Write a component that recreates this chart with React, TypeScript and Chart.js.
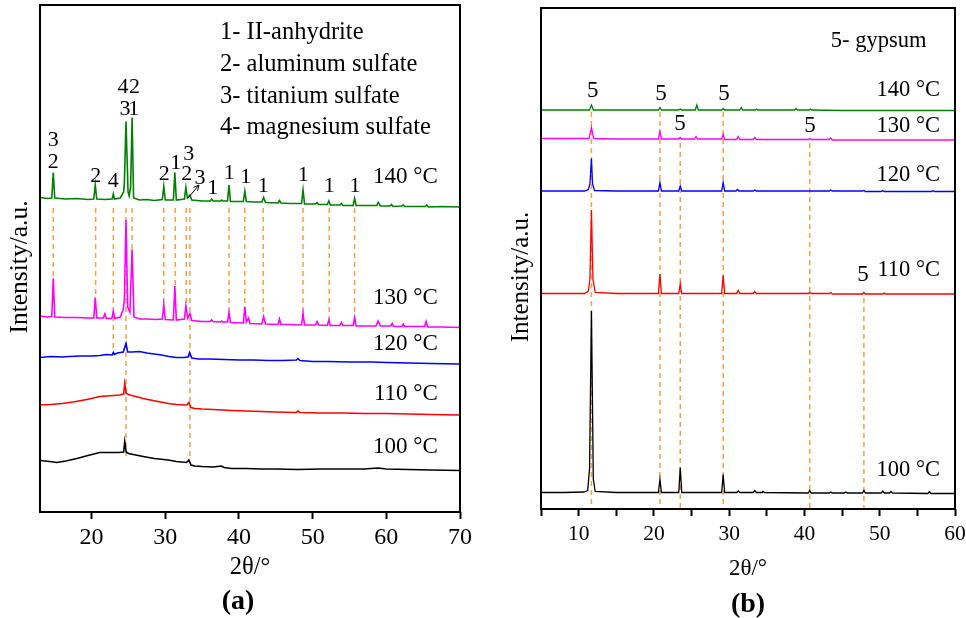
import React, { useEffect, useRef } from "react";
import { Chart, registerables } from "chart.js";

Chart.register(...registerables);
document.body.style.margin = "0";

const FONT = '"Liberation Serif", "Times New Roman", serif';
const DASH_COLOR = "rgb(246,160,72)";

// ---------------- Panel (a) data: 2θ (deg), intensity (a.u., stacked) ----------------
const A_X_TICKS = [20, 30, 40, 50, 60, 70];
const A_LABELLED = [20, 30, 40, 50, 60, 70];

const A_140: number[][] = [
  [13, 629], [14.0, 627], [14.6, 628], [14.8, 679], [15.0, 628], [16.5, 626], [18.0, 627], [19.5, 625],
  [20.3, 626], [20.5, 654], [20.7, 626], [21.8, 625], [22.8, 626], [22.95, 636], [23.1, 626], [23.9, 628],
  [24.35, 640], [24.45, 658], [24.67, 781], [24.95, 640], [25.1, 632], [25.3, 650], [25.5, 789], [25.7, 628],
  [26.5, 624], [27.5, 625], [28.5, 623], [29.6, 625], [29.8, 651], [30.0, 624], [31.1, 624], [31.3, 679],
  [31.5, 624], [32.6, 626], [32.8, 649], [33.0, 628], [33.35, 634], [33.6, 624], [35.0, 622], [36.1, 622],
  [36.3, 626], [36.5, 622], [37.5, 622], [37.65, 624], [37.8, 622], [38.45, 622], [38.65, 654], [38.85, 621],
  [40.6, 621], [40.8, 642], [41.0, 621], [42.0, 620], [43.1, 620], [43.35, 629], [43.6, 619], [45.3, 618],
  [45.5, 623], [45.7, 618], [47.0, 617], [48.5, 617], [48.7, 644], [48.9, 616], [50.4, 616], [50.6, 619],
  [50.8, 615], [52.0, 615], [52.2, 622], [52.4, 614], [53.7, 614], [53.9, 617], [54.1, 613], [55.5, 613],
  [55.7, 627], [55.9, 613], [57.5, 613], [58.7, 613], [58.9, 619], [59.2, 612], [60.5, 612], [60.7, 615],
  [60.9, 611], [62.1, 612], [62.3, 614], [62.5, 611], [64.0, 611], [65.3, 611], [65.5, 614], [65.7, 610],
  [67.5, 611], [70, 610],
];

const A_130: number[][] = [
  [13, 392], [14.0, 390], [14.6, 391], [14.8, 467], [15.0, 390], [16.5, 389], [18.0, 389], [19.5, 388],
  [20.3, 388], [20.5, 429], [20.7, 388], [21.6, 388], [21.8, 396], [22.0, 387], [22.75, 387], [22.95, 401],
  [23.15, 387], [23.9, 390], [24.3, 405], [24.45, 424], [24.67, 584], [24.9, 410], [25.2, 400], [25.5, 525],
  [25.75, 390], [26.5, 386], [27.5, 386], [28.7, 385], [29.6, 386], [29.8, 414], [30.0, 385], [31.1, 384],
  [31.3, 452], [31.5, 384], [32.6, 386], [32.8, 412], [33.05, 388], [33.35, 397], [33.6, 383], [35.0, 381],
  [36.1, 381], [36.3, 384], [36.5, 381], [37.5, 380], [37.65, 382], [37.8, 380], [38.45, 380], [38.65, 399],
  [38.85, 379], [40.6, 378], [40.8, 411], [41.0, 380], [41.3, 388], [41.5, 377], [43.1, 376], [43.35, 391],
  [43.6, 376], [45.3, 375], [45.5, 386], [45.7, 375], [47.0, 375], [48.5, 374], [48.7, 397], [48.9, 374],
  [50.4, 374], [50.6, 381], [50.8, 374], [52.0, 373], [52.2, 384], [52.4, 373], [53.7, 373], [53.9, 379],
  [54.1, 373], [55.5, 373], [55.7, 389], [55.9, 372], [57.5, 372], [58.6, 372], [58.9, 382], [59.2, 372],
  [60.6, 372], [60.8, 377], [61.0, 371], [62.1, 371], [62.3, 376], [62.5, 371], [64.0, 371], [65.2, 371],
  [65.4, 381], [65.6, 370], [67.5, 370], [70, 369],
];

const A_120: number[][] = [
  [13, 309], [14.5, 311], [16, 310], [17, 311], [18.5, 312], [20, 312], [21.1, 313], [22, 315], [22.8, 314],
  [22.95, 319], [23.1, 315], [23.5, 318], [24.3, 320], [24.67, 337], [24.9, 320], [25.5, 320], [26.5, 321],
  [27.5, 318], [28.5, 316], [29.5, 314], [30.5, 311], [31.5, 309], [32.5, 309], [33.1, 310], [33.3, 319],
  [33.6, 308], [34.5, 306], [36, 306], [38, 305], [40, 304], [42, 304], [44, 303], [46, 303], [47.8, 304],
  [48.0, 307], [48.3, 303], [50, 301], [52, 301], [55, 300], [58, 300], [60, 299], [63, 298], [66, 297],
  [70, 296],
];

const A_110: number[][] = [
  [13, 214], [14.5, 215], [16, 217], [17.5, 220], [19, 224], [20, 227], [21.1, 231], [22, 232], [23, 233],
  [23.8, 234], [24.35, 236], [24.5, 257], [24.7, 237], [25.2, 234], [26, 231], [27, 227], [28, 224],
  [29, 221], [30.4, 217], [31.5, 215], [32.9, 214], [33.2, 219], [33.5, 209], [34, 207], [35, 206],
  [36.5, 205], [39, 203], [41, 202], [43, 201], [45, 200], [47.8, 199], [48.0, 202], [48.3, 199], [51, 198],
  [54, 198], [57, 197], [60, 197], [63, 196], [66, 195], [70, 194],
];

const A_100: number[][] = [
  [13, 103], [14.3, 101], [15.3, 99], [16.5, 102], [18, 107], [19.5, 113], [21.1, 119], [22.5, 119],
  [23.7, 119], [24.35, 120], [24.5, 141], [24.7, 120], [25, 117], [26, 114], [27, 111], [28.5, 107],
  [30.4, 104], [31.5, 101], [32.9, 99], [33.2, 104], [33.5, 94], [34, 92], [35, 91], [36.5, 90], [37.6, 92],
  [38, 89], [39, 87], [41, 87], [43, 86], [45, 86], [48, 85], [51, 86], [54, 86], [57, 86], [58.9, 88],
  [60, 86], [63, 85], [66, 84], [70, 83],
];

// reference (dashed) lines: [2θ, top, bottom]
const A_DASH: number[][] = [
  [14.8, 608, 470], [20.55, 608, 429], [22.95, 608, 318], [24.67, 608, 110], [25.5, 608, 525],
  [29.8, 608, 414], [31.35, 608, 452], [32.85, 608, 412], [33.35, 608, 110], [38.65, 608, 399],
  [40.8, 608, 411], [43.3, 608, 391], [48.7, 608, 397], [52.25, 608, 384], [55.7, 608, 389],
];

const A_TEMPS = ["140 °C", "130 °C", "120 °C", "110 °C", "100 °C"];
const A_LEGEND = ["1- II-anhydrite", "2- aluminum sulfate", "3- titanium sulfate", "4- magnesium sulfate"];
const A_PEAK_TEXT = ["3", "2", "2", "4", "4", "2", "3", "1", "2", "1", "3", "2", "3", "1", "1", "1", "1", "1", "1", "1"];

// ---------------- Panel (b) data ----------------
const B_X_TICKS = [5, 10, 15, 20, 25, 30, 35, 40, 45, 50, 55, 60];
const B_LABELLED = [10, 20, 30, 40, 50, 60];

const B_140: number[][] = [
  [5, 798], [8, 798], [10, 798], [11.45, 798], [11.7, 808], [11.95, 798], [15, 798], [18, 798], [20.6, 798],
  [20.8, 803], [21.0, 798], [23.3, 798], [23.5, 800], [23.7, 798], [25.5, 798], [25.7, 808], [25.9, 798],
  [29.0, 798], [29.2, 801], [29.4, 798], [31.4, 798], [31.6, 803], [31.8, 798], [33.5, 798], [33.65, 800],
  [33.8, 798], [38.7, 798], [38.9, 801], [39.1, 798], [40.6, 798], [40.8, 800], [41.0, 798], [45, 797],
  [50, 797], [55, 797], [60, 797],
];

const B_130: number[][] = [
  [5, 741], [8, 741], [11.4, 741], [11.7, 763], [12.0, 741], [15, 740], [20.6, 740], [20.8, 755], [21.0, 740],
  [23.3, 740], [23.5, 743], [23.7, 740], [25.4, 740], [25.6, 745], [25.8, 740], [29.0, 740], [29.2, 749],
  [29.4, 739], [31.0, 739], [31.2, 745], [31.4, 739], [33.2, 739], [33.4, 743], [33.6, 739], [35, 739],
  [40.5, 739], [40.7, 741], [40.9, 739], [43.3, 739], [43.5, 742], [43.7, 738], [50, 738], [55, 738],
  [60, 738],
];

const B_120: number[][] = [
  [5, 636], [8, 636], [10.8, 636], [11.3, 639], [11.5, 650], [11.7, 701], [11.85, 650], [12.1, 637], [15, 636],
  [18, 636], [20.6, 636], [20.8, 653], [21.0, 636], [23.3, 636], [23.5, 646], [23.7, 636], [26, 636],
  [29.0, 636], [29.2, 653], [29.4, 636], [30.9, 636], [31.1, 639], [31.3, 636], [33.2, 636], [33.4, 638],
  [33.6, 636], [40, 636], [43.3, 636], [43.5, 638], [43.7, 636], [47.7, 636], [47.9, 637], [48.1, 635],
  [50.2, 635], [50.4, 637], [50.6, 635], [56.9, 635], [57.1, 637], [57.3, 635], [60, 635],
];

const B_110: number[][] = [
  [5, 431], [8, 431], [10.8, 431], [11.3, 436], [11.5, 460], [11.7, 598], [11.9, 460], [12.2, 433], [15, 431],
  [18, 431], [20.6, 431], [20.8, 470], [21.0, 431], [23.3, 431], [23.5, 450], [23.7, 431], [26, 431],
  [29.0, 431], [29.2, 467], [29.4, 431], [31.0, 431], [31.2, 437], [31.4, 431], [33.2, 431], [33.4, 435],
  [33.6, 431], [38, 431], [40.5, 431], [40.7, 433], [40.9, 431], [43.3, 431], [43.5, 433], [43.7, 430],
  [47.7, 430], [47.9, 433], [48.1, 430], [50.4, 430], [50.6, 432], [50.8, 430], [55, 430], [60, 430],
];

const B_100: number[][] = [
  [5, 33], [8, 33], [10.7, 34], [11.2, 37], [11.45, 80], [11.7, 396], [11.95, 60], [12.2, 35], [15, 33],
  [18, 33], [20.6, 33], [20.8, 59], [21.0, 33], [23.3, 33], [23.5, 83], [23.7, 33], [26, 33], [29.0, 33],
  [29.2, 69], [29.4, 33], [31.0, 33], [31.2, 36], [31.4, 33], [33.2, 33], [33.4, 37], [33.6, 33], [34.4, 33],
  [34.5, 35], [34.7, 33], [40.5, 32], [40.7, 37], [40.9, 32], [43.3, 32], [43.5, 34], [43.7, 32], [45.3, 32],
  [45.5, 34], [45.7, 32], [47.7, 32], [47.9, 37], [48.1, 32], [50.2, 32], [50.4, 36], [50.6, 32], [51.3, 32],
  [51.5, 35], [51.7, 32], [56.4, 31], [56.6, 35], [56.8, 31], [60, 31],
];

const B_DASH: number[][] = [
  [11.7, 794, 2], [20.8, 794, 2], [23.5, 732, 2], [29.2, 794, 2], [40.7, 732, 2], [47.9, 422, 2],
];

const B_TEMPS = ["140 °C", "130 °C", "120 °C", "110 °C", "100 °C"];
const B_LEGEND = ["5- gypsum"];
const B_PEAK_TEXT = ["5", "5", "5", "5", "5", "5"];

const SERIES_COLORS = ["#008000", "#ff00ff", "#0000ff", "#ff0000", "#000000"];

// ---------------- layout of annotations (positions in data coords) ----------------
const A_LAYOUT = {
  legendX: 37.43, legendY: [958, 894, 830, 768], legendSize: 24.5,
  tempX: 67.0, tempY: [670, 428, 336, 236, 130], tempSize: 23,
  peakPos: [
    [14.8, 744], [14.8, 699], [20.56, 672], [22.95, 661], [24.27, 850], [25.83, 850], [24.54, 806],
    [25.72, 806], [29.87, 676], [31.42, 697], [33.18, 716], [32.91, 676], [34.72, 667], [36.44, 647],
    [38.69, 677], [40.92, 669], [43.31, 651], [48.74, 674], [52.26, 652], [55.75, 652],
  ],
  peakSize: 22,
  arrow: [33.09, 628, 34.58, 654],
  yTitle: { x: 20.7, y: 267, size: 25.5 },
  tag: { text: "(a)", x: 238, y: 602, size: 28 },
};

const B_LAYOUT = {
  legendX: 43.5, legendY: [935], legendSize: 22.5,
  tempX: 58.0, tempY: [838, 765, 668, 478, 78], tempSize: 22.5,
  peakPos: [[11.86, 837], [20.94, 830], [29.31, 830], [23.47, 770], [40.74, 767], [47.78, 468]],
  peakSize: 23,
  arrow: null as number[] | null,
  yTitle: { x: 38.7, y: 277, size: 25 },
  tag: { text: "(b)", x: 265, y: 605, size: 28 },
};

type Spec = {
  series: number[][][];
  dash: number[][];
  xMin: number; xMax: number; yMax: number;
  ticks: number[]; labelled: number[];
  pad: { left: number; right: number; top: number };
  xAxisH: number; tickFont: number; tickPad: number;
  titleFont: number; titlePadB: number;
  temps: string[]; legend: string[]; peakText: string[];
  layout: typeof A_LAYOUT;
  lineW: number;
};

const SPEC_A: Spec = {
  series: [A_140, A_130, A_120, A_110, A_100],
  dash: A_DASH, xMin: 13, xMax: 70, yMax: 1014,
  ticks: A_X_TICKS, labelled: A_LABELLED,
  pad: { left: 40, right: 23, top: 5 }, xAxisH: 106, tickFont: 24, tickPad: 4,
  titleFont: 24.5, titlePadB: 35.3,
  temps: A_TEMPS, legend: A_LEGEND, peakText: A_PEAK_TEXT, layout: A_LAYOUT, lineW: 1.6,
};

const SPEC_B: Spec = {
  series: [B_140, B_130, B_120, B_110, B_100],
  dash: B_DASH, xMin: 5, xMax: 60, yMax: 1002,
  ticks: B_X_TICKS, labelled: B_LABELLED,
  pad: { left: 58, right: 11, top: 8 }, xAxisH: 109, tickFont: 21.5, tickPad: 5,
  titleFont: 23, titlePadB: 35.5,
  temps: B_TEMPS, legend: B_LEGEND, peakText: B_PEAK_TEXT, layout: B_LAYOUT as any, lineW: 1.3,
};

function makeConfig(spec: Spec): any {
  const L = spec.layout;
  const annotPlugin = {
    id: "annot",
    afterDraw(chart: any) {
      const { ctx, chartArea, scales } = chart;
      const xs = scales.x, ys = scales.y;
      const px = (v: number) => xs.getPixelForValue(v);
      const py = (v: number) => ys.getPixelForValue(v);
      ctx.save();
      // frame
      ctx.strokeStyle = "#000";
      ctx.lineWidth = 2;
      ctx.strokeRect(chartArea.left, chartArea.top, chartArea.right - chartArea.left, chartArea.bottom - chartArea.top);
      ctx.fillStyle = "#000";
      ctx.textBaseline = "middle";
      // legend text
      ctx.font = `${L.legendSize}px ${FONT}`;
      ctx.textAlign = "left";
      spec.legend.forEach((t, i) => ctx.fillText(t, px(L.legendX), py(L.legendY[i])));
      // temperatures
      ctx.font = `${L.tempSize}px ${FONT}`;
      ctx.textAlign = "right";
      spec.temps.forEach((t, i) => ctx.fillText(t, px(L.tempX), py(L.tempY[i])));
      // peak numbers
      ctx.font = `${L.peakSize}px ${FONT}`;
      ctx.textAlign = "center";
      spec.peakText.forEach((t, i) => ctx.fillText(t, px(L.peakPos[i][0]), py(L.peakPos[i][1])));
      // arrow
      if (L.arrow) {
        const [x1, y1, x2, y2] = L.arrow;
        const ax = px(x1), ay = py(y1), bx = px(x2), by = py(y2);
        ctx.lineWidth = 1;
        ctx.beginPath();
        ctx.moveTo(ax, ay);
        ctx.lineTo(bx, by);
        const ang = Math.atan2(by - ay, bx - ax);
        const h = 6;
        ctx.moveTo(bx, by);
        ctx.lineTo(bx - h * Math.cos(ang - 0.45), by - h * Math.sin(ang - 0.45));
        ctx.moveTo(bx, by);
        ctx.lineTo(bx - h * Math.cos(ang + 0.45), by - h * Math.sin(ang + 0.45));
        ctx.stroke();
      }
      // y title
      ctx.save();
      ctx.translate(L.yTitle.x, L.yTitle.y);
      ctx.rotate(-Math.PI / 2);
      ctx.font = `${L.yTitle.size}px ${FONT}`;
      ctx.textAlign = "center";
      ctx.fillText("Intensity/a.u.", 0, 0);
      ctx.restore();
      // panel tag
      ctx.font = `bold ${L.tag.size}px ${FONT}`;
      ctx.textAlign = "center";
      ctx.fillText(L.tag.text, L.tag.x, L.tag.y);
      ctx.restore();
    },
  };

  const curveSets = spec.series.map((s, i) => ({
    data: s.map(([x, y]) => ({ x, y })),
    borderColor: SERIES_COLORS[i],
    borderWidth: spec.lineW,
    showLine: true,
    pointRadius: 0,
    fill: false,
    order: 1,
  }));
  const dashSets = spec.dash.map(([x, t, b]) => ({
    data: [{ x, y: t }, { x, y: b }],
    borderColor: DASH_COLOR,
    borderWidth: 1.5,
    borderDash: [5, 4],
    showLine: true,
    pointRadius: 0,
    fill: false,
    order: 2,
  }));

  return {
    type: "scatter",
    data: { datasets: [...curveSets, ...dashSets] },
    options: {
      responsive: false,
      animation: false,
      events: [],
      layout: { padding: { left: spec.pad.left, right: spec.pad.right, top: spec.pad.top, bottom: 0 } },
      plugins: { legend: { display: false }, tooltip: { enabled: false }, title: { display: false } },
      scales: {
        x: {
          type: "linear",
          min: spec.xMin,
          max: spec.xMax,
          afterBuildTicks: (s: any) => { s.ticks = spec.ticks.map((v) => ({ value: v })); },
          afterFit: (s: any) => { s.height = spec.xAxisH; s.paddingLeft = 0; s.paddingRight = 0; },
          grid: { display: true, drawOnChartArea: false, drawTicks: true, tickLength: 7, tickWidth: 2, tickColor: "#000" },
          border: { display: false },
          ticks: {
            autoSkip: false, maxRotation: 0, minRotation: 0, padding: spec.tickPad, color: "#000",
            font: { family: FONT, size: spec.tickFont },
            callback: (v: number) => (spec.labelled.includes(v) ? String(v) : ""),
          },
          title: {
            display: true, text: "2θ/°", color: "#000",
            font: { family: FONT, size: spec.titleFont },
            padding: { top: 0, bottom: spec.titlePadB },
          },
        },
        y: { type: "linear", display: false, min: 0, max: spec.yMax },
      },
    },
    plugins: [annotPlugin],
  };
}

function Panel({ spec, left }: { spec: Spec; left: number }) {
  const ref = useRef<HTMLCanvasElement>(null);
  useEffect(() => {
    const chart = new Chart(ref.current as HTMLCanvasElement, makeConfig(spec));
    return () => chart.destroy();
  }, [spec]);
  return (
    <canvas
      ref={ref}
      width={483}
      height={618}
      style={{ position: "absolute", left, top: 0, width: 483, height: 618 }}
    />
  );
}

export default function App() {
  return (
    <div style={{ position: "relative", width: 966, height: 618, background: "#fff", overflow: "hidden" }}>
      <Panel spec={SPEC_A} left={0} />
      <Panel spec={SPEC_B} left={483} />
    </div>
  );
}
